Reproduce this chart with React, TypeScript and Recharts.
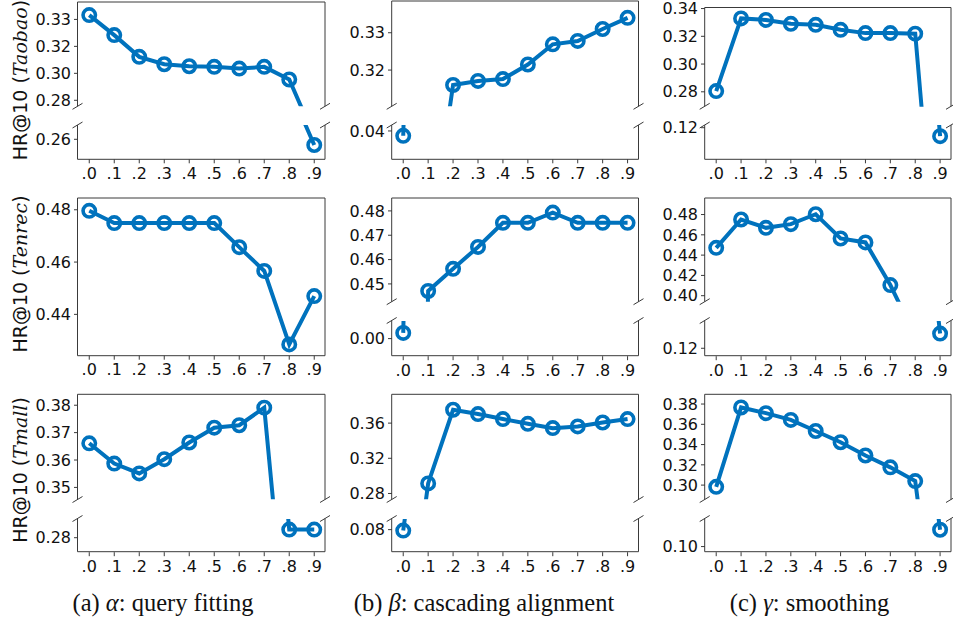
import React from 'react';
import { LineChart, Line, XAxis, YAxis } from 'recharts';

// shared x values (parameter value) and their printed labels
const X_VALUES = [0, 0.1, 0.2, 0.3, 0.4, 0.5, 0.6, 0.7, 0.8, 0.9];
const X_LABELS = ['.0', '.1', '.2', '.3', '.4', '.5', '.6', '.7', '.8', '.9'];

// HR@10 per dataset and parameter
const TAOBAO_ALPHA = [0.3353, 0.3223, 0.3082, 0.3034, 0.3021, 0.3017, 0.3006, 0.3017, 0.2935, 0.2563];
const TAOBAO_BETA = [0.0387, 0.27, 0.316, 0.3171, 0.3176, 0.3215, 0.3269, 0.3278, 0.331, 0.334];
const TAOBAO_GAMMA = [0.2805, 0.3329, 0.3318, 0.329, 0.3283, 0.3247, 0.3223, 0.3223, 0.3219, 0.1141];
const TENREC_ALPHA = [0.4796, 0.4749, 0.4749, 0.4749, 0.4749, 0.4749, 0.4657, 0.4566, 0.4285, 0.447];
const TENREC_BETA = [0.0023, 0.4471, 0.4562, 0.4652, 0.4751, 0.4751, 0.4793, 0.4751, 0.4751, 0.4751];
const TENREC_GAMMA = [0.4472, 0.4751, 0.4669, 0.4705, 0.4803, 0.4564, 0.4525, 0.4105, 0.36, 0.1347];
const TMALL_ALPHA = [0.3661, 0.3587, 0.3551, 0.3603, 0.3664, 0.3718, 0.3727, 0.3791, 0.2829, 0.2829];
const TMALL_BETA = [0.0789, 0.2914, 0.3752, 0.3703, 0.3646, 0.3592, 0.3543, 0.3562, 0.3607, 0.3646];
const TMALL_GAMMA = [0.2983, 0.3766, 0.371, 0.3643, 0.3534, 0.3423, 0.3292, 0.3175, 0.304, 0.1168];

// y ticks (upper / lower part of each broken axis)
const TAOBAO_ALPHA_TICKS = [0.28, 0.2975, 0.315, 0.3325];
const TAOBAO_ALPHA_LOW = [0.26];
const TAOBAO_BETA_TICKS = [0.32, 0.33];
const TAOBAO_BETA_LOW = [0.04];
const TAOBAO_GAMMA_TICKS = [0.28, 0.3, 0.32, 0.34];
const TAOBAO_GAMMA_LOW = [0.12];
const TENREC_ALPHA_TICKS = [0.44, 0.46, 0.48];
const TENREC_BETA_TICKS = [0.45, 0.46, 0.47, 0.48];
const TENREC_BETA_LOW = [0.0];
const TENREC_GAMMA_TICKS = [0.4, 0.42, 0.44, 0.46, 0.48];
const TENREC_GAMMA_LOW = [0.12];
const TMALL_ALPHA_TICKS = [0.35, 0.36, 0.37, 0.38];
const TMALL_ALPHA_LOW = [0.28];
const TMALL_BETA_TICKS = [0.28, 0.32, 0.36];
const TMALL_BETA_LOW = [0.08];
const TMALL_GAMMA_TICKS = [0.3, 0.32, 0.34, 0.36, 0.38];
const TMALL_GAMMA_LOW = [0.1];

const DATASETS = ['Taobao', 'Tenrec', 'Tmall'];
const CAPTIONS = [
  { tag: '(a) ', sym: 'α', text: ': query fitting' },
  { tag: '(b) ', sym: 'β', text: ': cascading alignment' },
  { tag: '(c) ', sym: 'γ', text: ': smoothing' },
];

const COLOR = '#0072bd';
const SPINE = '#3a3a3a';
const X_DOMAIN: [number, number] = [-0.045, 0.945];

const COLS = [
  { left: 77.5, right: 325 },
  { left: 391.7, right: 638.5 },
  { left: 704.7, right: 951 },
];
const ROWS = [
  { top: 2, cut: 106.3, resume: 125, bottom: 159.3, labelY: 80 },
  { top: 198, cut: 301.7, resume: 320.5, bottom: 355.7, labelY: 274 },
  { top: 394.3, cut: 499.5, resume: 518.5, bottom: 551.7, labelY: 470 },
];
const CAPTION_X = [163, 484, 809.5];

type Part = { domain: [number, number]; ticks: number[] };
type Sub = { values: number[]; row: number; col: number; top?: number; upper: Part; lower?: Part };

const SUBPLOTS: Sub[] = [
  { values: TAOBAO_ALPHA, row: 0, col: 0, top: 2, upper: { domain: [0.2761, 0.3438], ticks: TAOBAO_ALPHA_TICKS }, lower: { domain: [0.247, 0.2693], ticks: TAOBAO_ALPHA_LOW } },
  { values: TAOBAO_BETA, row: 0, col: 1, top: 1, upper: { domain: [0.3103, 0.3385], ticks: TAOBAO_BETA_TICKS }, lower: { domain: [0.0324, 0.0416], ticks: TAOBAO_BETA_LOW } },
  { values: TAOBAO_GAMMA, row: 0, col: 2, top: 7.5, upper: { domain: [0.2692, 0.3404], ticks: TAOBAO_GAMMA_TICKS }, lower: { domain: [0.0979, 0.1219], ticks: TAOBAO_GAMMA_LOW } },
  { values: TENREC_ALPHA, row: 1, col: 0, upper: { domain: [0.4242, 0.4845], ticks: TENREC_ALPHA_TICKS } },
  { values: TENREC_BETA, row: 1, col: 1, upper: { domain: [0.4427, 0.4853], ticks: TENREC_BETA_TICKS }, lower: { domain: [-0.0071, 0.0071], ticks: TENREC_BETA_LOW } },
  { values: TENREC_GAMMA, row: 1, col: 2, upper: { domain: [0.3941, 0.4963], ticks: TENREC_GAMMA_TICKS }, lower: { domain: [0.1121, 0.1472], ticks: TENREC_GAMMA_LOW } },
  { values: TMALL_ALPHA, row: 2, col: 0, upper: { domain: [0.3457, 0.3841], ticks: TMALL_ALPHA_TICKS }, lower: { domain: [0.2748, 0.2867], ticks: TMALL_ALPHA_LOW } },
  { values: TMALL_BETA, row: 2, col: 1, upper: { domain: [0.2735, 0.3931], ticks: TMALL_BETA_TICKS }, lower: { domain: [0.0541, 0.0922], ticks: TMALL_BETA_LOW } },
  { values: TMALL_GAMMA, row: 2, col: 2, upper: { domain: [0.2861, 0.3899], ticks: TMALL_GAMMA_TICKS }, lower: { domain: [0.0944, 0.1275], ticks: TMALL_GAMMA_LOW } },
];

const YW = 50;
const M = 10;
const XH = 32;
const tickStyle = { fontSize: 16, fill: '#111', fontFamily: 'DejaVu Sans' };

type Side = 'upper' | 'lower' | 'full';
type Box = { left: number; right: number; top: number; bottom: number };

const Panel: React.FC<{ values: number[]; box: Box; part: Part; side: Side }> = ({ values, box, part, side }) => {
  const data = X_VALUES.map((x, i) => ({ x, y: values[i] }));
  const pw = box.right - box.left;
  const ph = box.bottom - box.top;
  const showX = side !== 'upper';
  const width = YW + pw + M;
  const height = M + ph + (showX ? XH : M);
  return (
    <div style={{ position: 'absolute', left: box.left - YW, top: box.top - M }}>
      <LineChart width={width} height={height} data={data} margin={{ top: M, right: M, bottom: showX ? 0 : M, left: 0 }}>
        <XAxis
          type="number"
          dataKey="x"
          domain={X_DOMAIN}
          ticks={X_VALUES}
          interval={0}
          height={showX ? XH : 0}
          hide={!showX}
          tick={tickStyle}
          tickLine={{ stroke: SPINE }}
          tickSize={4}
          tickMargin={4}
          tickFormatter={(v: number) => X_LABELS[Math.round(v * 10)]}
          axisLine={false}
          allowDataOverflow
        />
        <YAxis
          type="number"
          domain={part.domain}
          ticks={part.ticks}
          interval={0}
          width={YW}
          allowDataOverflow
          tick={tickStyle}
          tickLine={{ stroke: SPINE }}
          tickSize={4}
          tickMargin={3}
          tickFormatter={(v: number) => v.toFixed(2)}
          axisLine={false}
        />
        <Line
          dataKey="y"
          stroke={COLOR}
          strokeWidth={4}
          dot={{ r: 6.2, fill: 'none', stroke: COLOR, strokeWidth: 3.6 }}
          isAnimationActive={false}
        />
      </LineChart>
    </div>
  );
};

// frame lines of one panel; the side that meets the axis break stays open
const frame = (key: string, b: Box, side: Side) => {
  const segs: [number, number, number, number][] = [
    [b.left, b.top, b.left, b.bottom],
    [b.right, b.top, b.right, b.bottom],
  ];
  if (side !== 'lower') segs.push([b.left, b.top, b.right, b.top]);
  if (side !== 'upper') segs.push([b.left, b.bottom, b.right, b.bottom]);
  return segs.map((s, j) => <line key={`${key}-${j}`} x1={s[0]} y1={s[1]} x2={s[2]} y2={s[3]} stroke={SPINE} strokeWidth={1} />);
};

const App: React.FC = () => {
  const panels: React.ReactNode[] = [];
  const decor: React.ReactNode[] = [];
  SUBPLOTS.forEach((s, i) => {
    const r = ROWS[s.row];
    const c = COLS[s.col];
    const top = s.top ?? r.top;
    if (!s.lower) {
      const box = { left: c.left, right: c.right, top, bottom: r.bottom };
      panels.push(<Panel key={`p${i}`} values={s.values} part={s.upper} side="full" box={box} />);
      decor.push(...frame(`f${i}`, box, 'full'));
      return;
    }
    const ub = { left: c.left, right: c.right, top, bottom: r.cut };
    const lb = { left: c.left, right: c.right, top: r.resume, bottom: r.bottom };
    panels.push(<Panel key={`u${i}`} values={s.values} part={s.upper} side="upper" box={ub} />);
    panels.push(<Panel key={`l${i}`} values={s.values} part={s.lower} side="lower" box={lb} />);
    decor.push(...frame(`fu${i}`, ub, 'upper'), ...frame(`fl${i}`, lb, 'lower'));
    [c.left, c.right].forEach((x) =>
      [r.cut, r.resume].forEach((y) => {
        decor.push(<line key={`b${i}-${x}-${y}`} x1={x - 5} y1={y + 3} x2={x + 5} y2={y - 3} stroke={SPINE} strokeWidth={1} />);
      })
    );
  });

  return (
    <div style={{ position: 'absolute', left: 0, top: 0, width: 953, height: 619, background: '#fff', overflow: 'hidden' }}>
      {panels}
      <svg width={953} height={619} style={{ position: 'absolute', left: 0, top: 0, pointerEvents: 'none' }}>
        {decor}
        {DATASETS.map((name, i) => (
          <text
            key={name}
            transform={`translate(20, ${ROWS[i].labelY}) rotate(-90)`}
            textAnchor="middle"
            dominantBaseline="central"
            fontFamily="DejaVu Sans"
            fontSize={19}
            fill="#111"
          >
            HR@10 (<tspan fontFamily="DejaVu Serif" fontStyle="italic">{name}</tspan>)
          </text>
        ))}
        {CAPTIONS.map((cap, i) => (
          <text key={cap.tag} x={CAPTION_X[i]} y={602} textAnchor="middle" dominantBaseline="central" fontFamily="Liberation Serif" fontSize={24.5} fill="#111">
            {cap.tag}
            <tspan fontStyle="italic">{cap.sym}</tspan>
            {cap.text}
          </text>
        ))}
      </svg>
    </div>
  );
};

export default App;
